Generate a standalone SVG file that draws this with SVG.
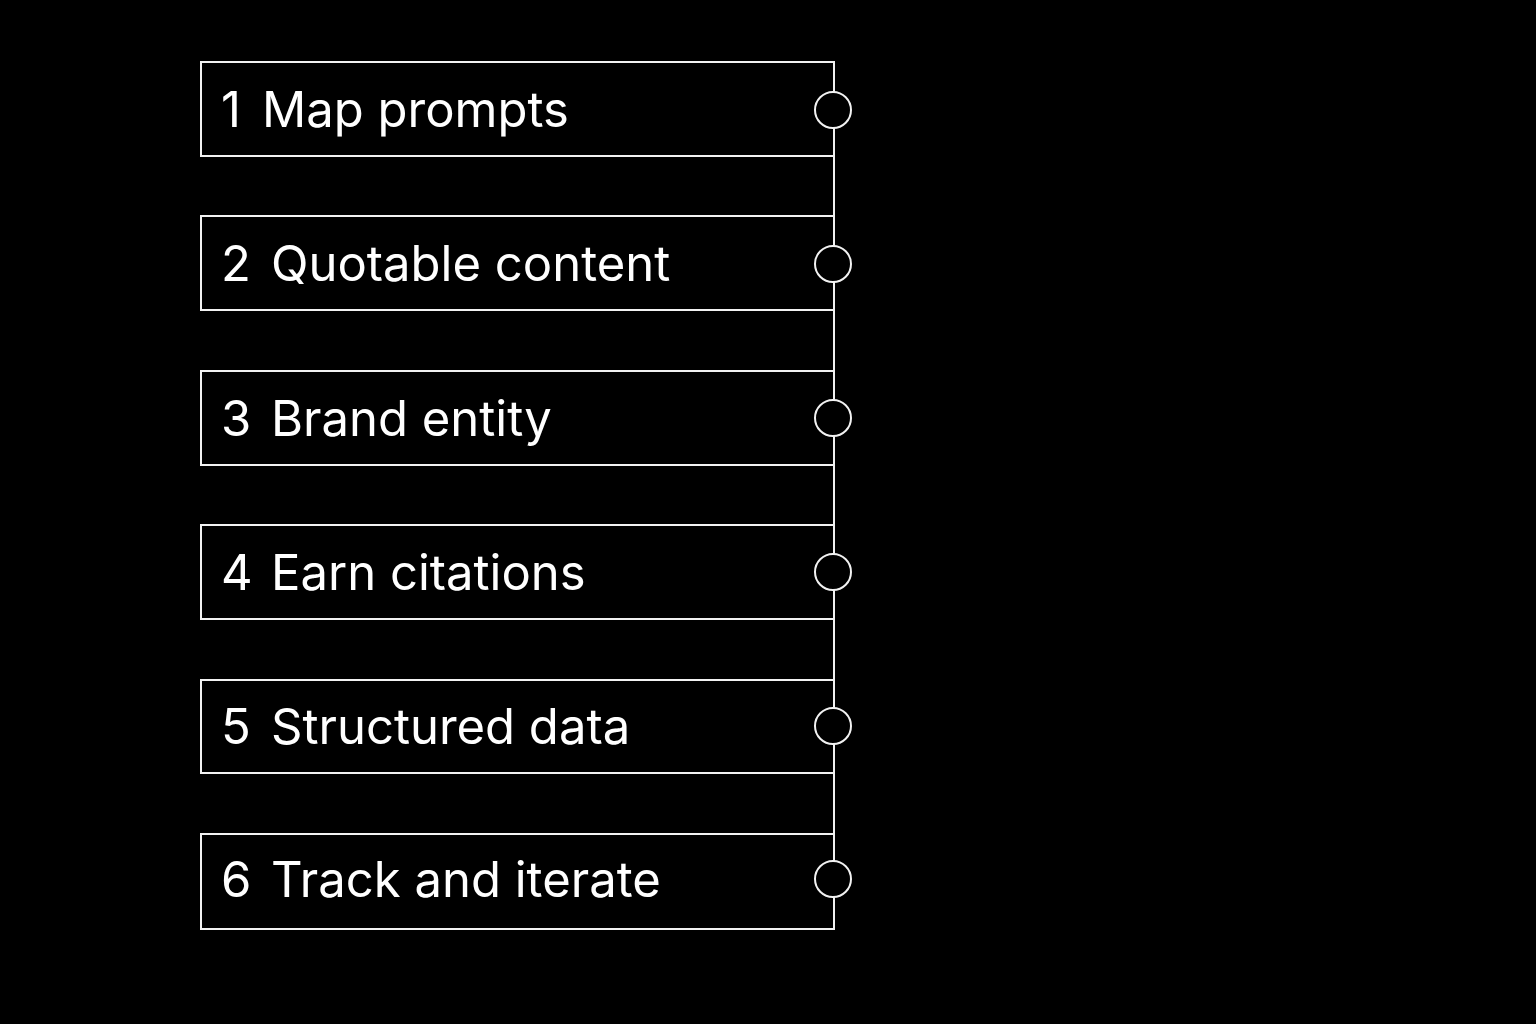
<svg xmlns="http://www.w3.org/2000/svg" width="1536" height="1024" viewBox="0 0 1536 1024">
<style>
.box{fill:#000;stroke:#f2f2f2;stroke-width:2}
.lbl{fill:#fff;font-family:Inter,"Liberation Sans",sans-serif;font-size:49px}
.dot{fill:#000;stroke:#f2f2f2;stroke-width:2}
.line{stroke:#f2f2f2;stroke-width:2;fill:none}
</style>
<rect width="1536" height="1024" fill="#000"/>
<g id="connectors">
<line class="line" x1="834" y1="62" x2="834" y2="929"/>
</g>
<g id="n1"><rect class="box" x="201" y="62" width="633" height="94"/><text class="lbl" y="127"><tspan x="221">1</tspan><tspan x="262">Map prompts</tspan></text><circle class="dot" cx="833" cy="110" r="18"/></g>
<g id="n2"><rect class="box" x="201" y="216" width="633" height="94"/><text class="lbl" y="281"><tspan x="221">2</tspan><tspan x="271">Quotable content</tspan></text><circle class="dot" cx="833" cy="264" r="18"/></g>
<g id="n3"><rect class="box" x="201" y="371" width="633" height="94"/><text class="lbl" y="436"><tspan x="221">3</tspan><tspan x="271">Brand entity</tspan></text><circle class="dot" cx="833" cy="418" r="18"/></g>
<g id="n4"><rect class="box" x="201" y="525" width="633" height="94"/><text class="lbl" y="590"><tspan x="221">4</tspan><tspan x="271">Earn citations</tspan></text><circle class="dot" cx="833" cy="572" r="18"/></g>
<g id="n5"><rect class="box" x="201" y="680" width="633" height="93"/><text class="lbl" y="744"><tspan x="221">5</tspan><tspan x="271">Structured data</tspan></text><circle class="dot" cx="833" cy="726" r="18"/></g>
<g id="n6"><rect class="box" x="201" y="834" width="633" height="95"/><text class="lbl" y="897"><tspan x="221">6</tspan><tspan x="271">Track and iterate</tspan></text><circle class="dot" cx="833" cy="879" r="18"/></g>
</svg>
